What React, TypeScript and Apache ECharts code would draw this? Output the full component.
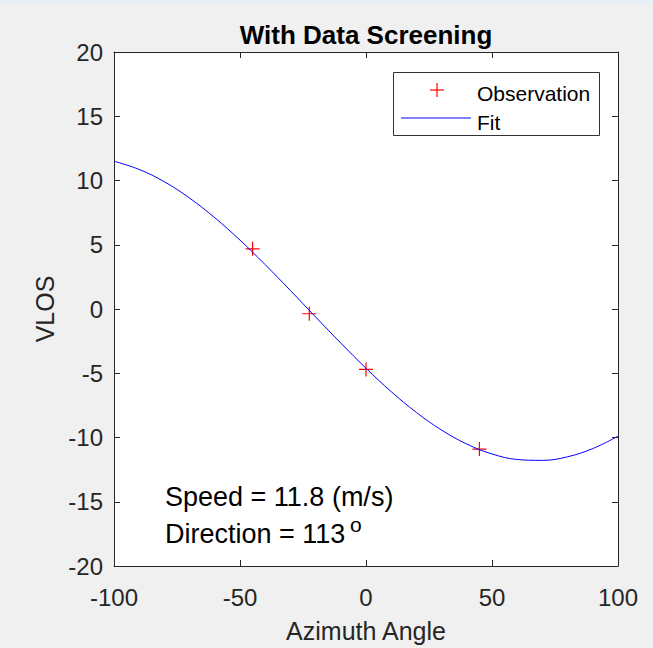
import React, { useEffect, useRef } from "react";
import * as echarts from "echarts";

// Observations (azimuth angle, VLOS)
const obsAngles = [-45, -22.5, 0, 45];
const obsValues = [4.68, -0.37, -4.7, -10.9];

// Fitted curve
const fitAngles = [-100, -90, -80, -70, -60, -50, -40, -30, -20, -10, 0, 10, 20, 30, 40, 50, 60, 70, 80, 90, 100];
const fitValues = [11.5, 10.86, 9.9, 8.63, 7.1, 5.36, 3.45, 1.44, -0.62, -2.65, -4.61, -6.43, -8.05, -9.42, -10.51, -11.28, -11.71, -11.78, -11.5, -10.86, -9.9];

const titleText = "With Data Screening";
const xName = "Azimuth Angle";
const yName = "VLOS";
const seriesNames = ["Observation", "Fit"];
const speedText = "Speed = 11.8 (m/s)";
const directionText = "Direction = 113";

const FONT = "'Liberation Sans', Arial, Helvetica, sans-serif";
const AX = "#262626";

export default function App() {
  const ref = useRef<HTMLDivElement>(null);
  useEffect(() => {
    if (!ref.current) return;
    const chart = echarts.init(ref.current, null, { renderer: "svg" });
    const gl = 114, gt = 52, gw = 504, gh = 523;
    const axisCommon = {
      type: "value" as const,
      axisLine: { show: true, onZero: false, lineStyle: { color: AX, width: 1 } },
      axisTick: { show: true, inside: true, length: 6, lineStyle: { color: AX, width: 1 } },
      splitLine: { show: false },
    };
    chart.setOption({
      animation: false,
      backgroundColor: "transparent",
      textStyle: { fontFamily: FONT },
      grid: { left: gl, top: gt, width: gw, height: gh, show: true, backgroundColor: "#ffffff", borderWidth: 0 },
      xAxis: [
        {
          ...axisCommon,
          min: -100, max: 100, interval: 50, position: "bottom",
          axisLabel: { fontSize: 24, color: AX, margin: 19, fontFamily: FONT },
          name: xName, nameLocation: "middle", nameGap: 52,
          nameTextStyle: { fontSize: 25, color: AX, fontFamily: FONT },
        },
        {
          ...axisCommon,
          min: -100, max: 100, interval: 50, position: "top",
          axisLabel: { show: false },
        },
      ],
      yAxis: [
        {
          ...axisCommon,
          min: -20, max: 20, interval: 5, position: "left",
          axisLabel: { fontSize: 24, color: AX, margin: 11, fontFamily: FONT, padding: [6, 0, 0, 0] },
          name: yName, nameLocation: "middle", nameGap: 53, nameRotate: 90,
          nameTextStyle: { fontSize: 25, color: AX, fontFamily: FONT },
        },
        {
          ...axisCommon,
          min: -20, max: 20, interval: 5, position: "right",
          axisLabel: { show: false },
        },
      ],
      series: [
        {
          name: seriesNames[0],
          type: "scatter",
          data: obsAngles.map((a, i) => [a, obsValues[i]]),
          symbol: "path://M6.4,0H7.6V14H6.4Z M0,6.4H14V7.6H0Z",
          symbolSize: 14,
          itemStyle: { color: "#ff0000", opacity: 1 },
          z: 2,
        },
        {
          name: seriesNames[1],
          type: "line",
          data: fitAngles.map((a, i) => [a, fitValues[i]]),
          smooth: 0.4,
          showSymbol: false,
          lineStyle: { color: "#0000ff", width: 1 },
          z: 3,
        },
      ],
      graphic: [
        {
          type: "text", x: 366, y: 35,
          style: { text: titleText, font: `bold 26px ${FONT}`, fill: "#000", align: "center", verticalAlign: "middle" },
        },
        {
          type: "rect", shape: { x: 393.5, y: 72.5, width: 206, height: 63 },
          style: { fill: "#ffffff", stroke: "#333333", lineWidth: 1 }, z: 10,
        },
        { type: "line", shape: { x1: 430, y1: 90, x2: 444, y2: 90 }, style: { stroke: "#ff0000", lineWidth: 1.2 }, z: 11 },
        { type: "line", shape: { x1: 437, y1: 83, x2: 437, y2: 97 }, style: { stroke: "#ff0000", lineWidth: 1.2 }, z: 11 },
        { type: "line", shape: { x1: 401, y1: 118, x2: 471, y2: 118 }, style: { stroke: "#0000ff", lineWidth: 1 }, z: 11 },
        {
          type: "text", x: 477, y: 93, z: 11,
          style: { text: seriesNames[0], font: `21px ${FONT}`, fill: "#000", align: "left", verticalAlign: "middle" },
        },
        {
          type: "text", x: 477, y: 122, z: 11,
          style: { text: seriesNames[1], font: `21px ${FONT}`, fill: "#000", align: "left", verticalAlign: "middle" },
        },
        {
          type: "text", x: 165, y: 497, z: 11,
          style: { text: speedText, font: `27px ${FONT}`, fill: "#000", align: "left", verticalAlign: "middle" },
        },
        {
          type: "text", x: 165, y: 534, z: 11,
          style: { text: directionText, font: `27px ${FONT}`, fill: "#000", align: "left", verticalAlign: "middle" },
        },
        {
          type: "text", x: 350, y: 524, z: 11,
          style: { text: "o", font: `21px ${FONT}`, fill: "#000", align: "left", verticalAlign: "middle" },
        },
      ],
    });
    return () => chart.dispose();
  }, []);
  return (
    <div style={{ position: "fixed", left: 0, top: 0, width: 653, height: 648, background: "#f0f0f0" }}>
      <div style={{ position: "absolute", left: 0, top: 0, width: 653, height: 4, background: "#e9eff6" }} />
      <div ref={ref} style={{ position: "absolute", left: 0, top: 0, width: 653, height: 648 }} />
    </div>
  );
}
